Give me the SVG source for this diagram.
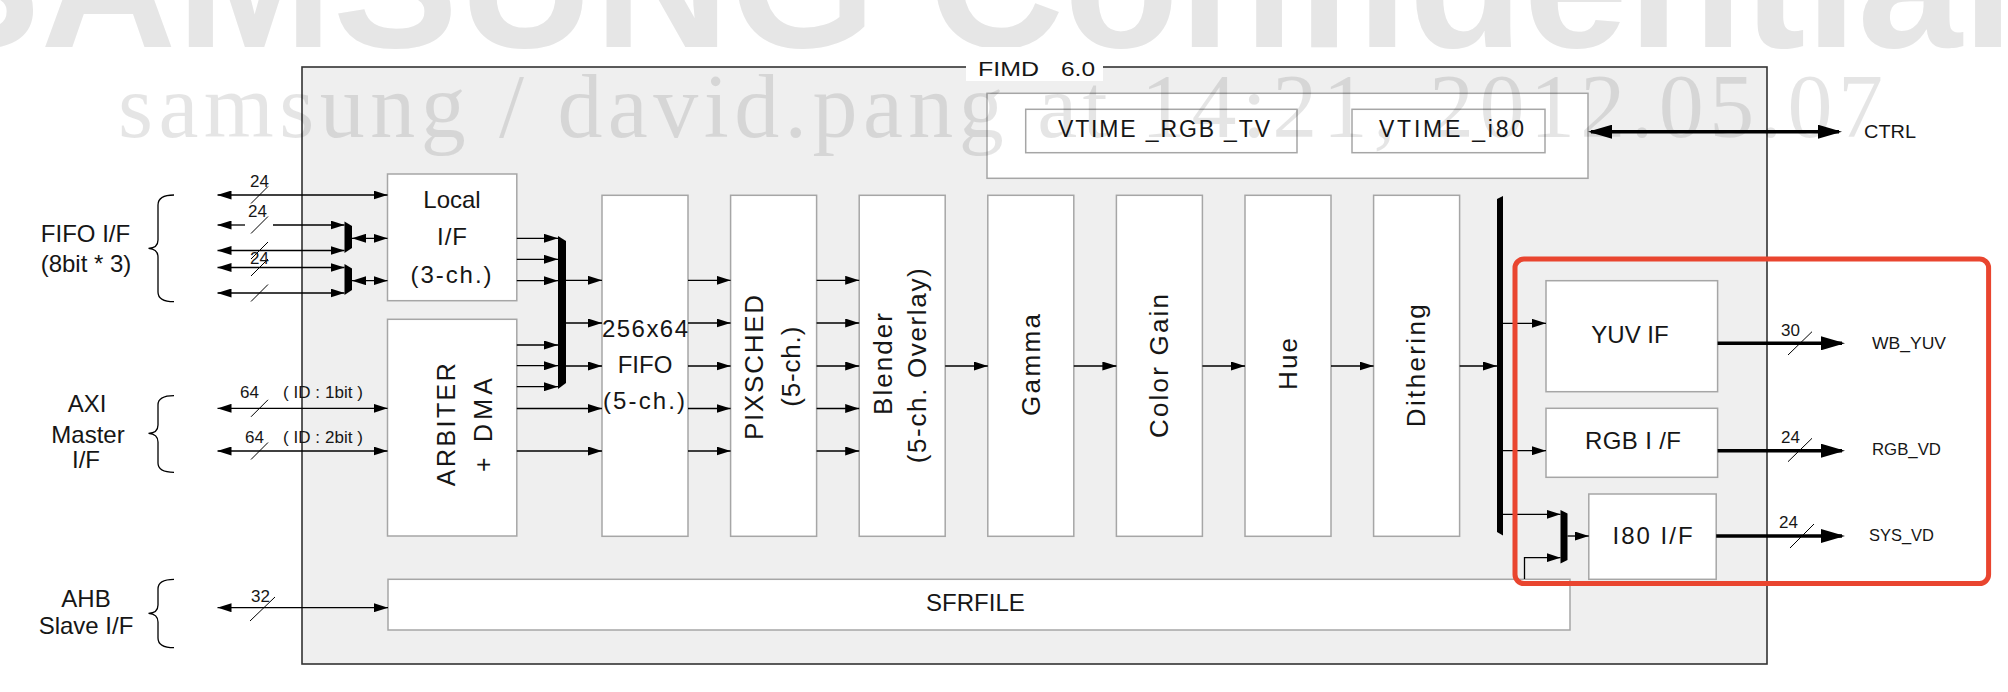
<svg xmlns="http://www.w3.org/2000/svg" width="2008" height="692" viewBox="0 0 2008 692">
<defs>
<style>
.t{font-family:"Liberation Sans",Arial,sans-serif;fill:#161616}
.box{fill:#fff;stroke:#a6a6a6;stroke-width:1.5}
.c{stroke:#000;stroke-width:1.3;fill:none}
.ck{stroke:#000;stroke-width:3.5;fill:none}
.sl{stroke:#000;stroke-width:1;fill:none}
.br{stroke:#000;stroke-width:1.3;fill:none}
.d{marker-start:url(#a);marker-end:url(#a)}
.e{marker-end:url(#a)}
.s{marker-start:url(#a)}
.mx{fill:#000}
</style>
<marker id="a" viewBox="0 0 14 9" refX="14" refY="4.5" markerWidth="14" markerHeight="9" markerUnits="userSpaceOnUse" orient="auto-start-reverse"><path d="M0,0 L14,4.5 L0,9z" fill="#000"/></marker>
<marker id="A" viewBox="0 0 24 14" refX="21" refY="7" markerWidth="24" markerHeight="14" markerUnits="userSpaceOnUse" orient="auto-start-reverse"><path d="M0,0 L24,7 L0,14z" fill="#000"/></marker>
</defs>
<rect width="2008" height="692" fill="#fff"/>
<text id="wm-top" x="-85" y="47" font-family="'Liberation Sans',Arial,sans-serif" font-weight="bold" font-size="188" fill="#e6e6e6">SAMSUNG Confidential</text>

<g id="fimd">
<rect x="302" y="67" width="1465" height="597" fill="#efefef" stroke="#333" stroke-width="1.6"/>
<rect x="966" y="47" width="137" height="34" fill="#fff"/>
<text class="t" x="978" y="76" font-size="21" textLength="61" lengthAdjust="spacingAndGlyphs">FIMD</text>
<text class="t" x="1061" y="76" font-size="21" textLength="34" lengthAdjust="spacingAndGlyphs">6.0</text>
</g>

<g id="left-labels">
<text class="t" x="85.5" y="241.7" font-size="24" text-anchor="middle">FIFO I/F</text>
<text class="t" x="86" y="271.7" font-size="24" text-anchor="middle">(8bit * 3)</text>
<path class="br" d="M174,195 Q158,195 158,205 L158,240 Q158,248 148.5,248.3 Q158,249 158,257 L158,292 Q158,301.7 174,301.7"/>
<text class="t" x="87" y="412" font-size="24" text-anchor="middle">AXI</text>
<text class="t" x="88" y="442.7" font-size="24" text-anchor="middle">Master</text>
<text class="t" x="86" y="468.3" font-size="24" text-anchor="middle">I/F</text>
<path class="br" d="M174,395.7 Q158,395.7 158,405 L158,425 Q158,433 148.5,433.3 Q158,434 158,442 L158,463 Q158,472.3 174,472.3"/>
<text class="t" x="86" y="606.7" font-size="24" text-anchor="middle">AHB</text>
<text class="t" x="86" y="634" font-size="24" text-anchor="middle">Slave I/F</text>
<path class="br" d="M174,579.3 Q158,579.3 158,589 L158,605 Q158,613 148.5,613.3 Q158,614 158,622 L158,638 Q158,647.7 174,647.7"/>
</g>

<g id="vtime">
<rect x="987" y="93.3" width="601" height="85" fill="#fff" stroke="#a6a6a6" stroke-width="1.5"/>
<rect class="box" x="1025.7" y="109.3" width="271.3" height="43.4"/>
<text class="t" x="1058" y="136.7" font-size="23" textLength="212" lengthAdjust="spacing">VTIME _RGB _TV</text>
<rect class="box" x="1352" y="109.3" width="193" height="43.4"/>
<text class="t" x="1379" y="136.7" font-size="23" textLength="145" lengthAdjust="spacing">VTIME _i80</text>
</g>

<g id="local-if">
<rect class="box" x="387.5" y="174" width="129.3" height="126.7"/>
<text class="t" x="452" y="208.3" font-size="24" text-anchor="middle">Local</text>
<text class="t" x="452" y="245" font-size="24" text-anchor="middle" textLength="30" lengthAdjust="spacing">I/F</text>
<text class="t" x="451" y="283.3" font-size="24" text-anchor="middle" textLength="81" lengthAdjust="spacing">(3-ch.)</text>
</g>
<g id="arbiter">
<rect class="box" x="387.5" y="319.3" width="129.3" height="216.7"/>
<text class="t" transform="translate(455,424.7) rotate(-90)" font-size="25" text-anchor="middle" textLength="123" lengthAdjust="spacing">ARBITER</text>
<text class="t" transform="translate(492,425) rotate(-90)" font-size="25" text-anchor="middle" textLength="94" lengthAdjust="spacing">+ DMA</text>
</g>
<g id="fifo">
<rect class="box" x="602" y="195.3" width="86" height="341"/>
<text class="t" x="645" y="336.7" font-size="24" text-anchor="middle" textLength="86" lengthAdjust="spacing">256x64</text>
<text class="t" x="645" y="372.7" font-size="24" text-anchor="middle">FIFO</text>
<text class="t" x="644" y="409.3" font-size="24" text-anchor="middle" textLength="82" lengthAdjust="spacing">(5-ch.)</text>
</g>
<g id="pixsched">
<rect class="box" x="730.6" y="195.3" width="86" height="341"/>
<text class="t" transform="translate(763,367.5) rotate(-90)" font-size="26" text-anchor="middle" textLength="145" lengthAdjust="spacing">PIXSCHED</text>
<text class="t" transform="translate(799.5,366.7) rotate(-90)" font-size="26" text-anchor="middle" textLength="80" lengthAdjust="spacing">(5-ch.)</text>
</g>
<g id="blender">
<rect class="box" x="859.2" y="195.3" width="86" height="341"/>
<text class="t" transform="translate(891.5,364) rotate(-90)" font-size="26" text-anchor="middle" textLength="102" lengthAdjust="spacing">Blender</text>
<text class="t" transform="translate(926,365.8) rotate(-90)" font-size="26" text-anchor="middle" textLength="195" lengthAdjust="spacing">(5-ch. Overlay)</text>
</g>
<g id="gamma">
<rect class="box" x="987.8" y="195.3" width="86" height="341"/>
<text class="t" transform="translate(1040,365) rotate(-90)" font-size="26" text-anchor="middle" textLength="102" lengthAdjust="spacing">Gamma</text>
</g>
<g id="color-gain">
<rect class="box" x="1116.4" y="195.3" width="86" height="341"/>
<text class="t" transform="translate(1168,366) rotate(-90)" font-size="26" text-anchor="middle" textLength="144" lengthAdjust="spacing">Color Gain</text>
</g>
<g id="hue">
<rect class="box" x="1245" y="195.3" width="86" height="341"/>
<text class="t" transform="translate(1297,364) rotate(-90)" font-size="26" text-anchor="middle" textLength="52" lengthAdjust="spacing">Hue</text>
</g>
<g id="dithering">
<rect class="box" x="1373.6" y="195.3" width="86" height="341"/>
<text class="t" transform="translate(1425,365.7) rotate(-90)" font-size="26" text-anchor="middle" textLength="123" lengthAdjust="spacing">Dithering</text>
</g>
<g id="yuv-if">
<rect class="box" x="1546" y="280.7" width="171.6" height="111"/>
<text class="t" x="1630" y="343.3" font-size="24" text-anchor="middle">YUV IF</text>
</g>
<g id="rgb-if">
<rect class="box" x="1546" y="408.3" width="171.6" height="69"/>
<text class="t" x="1633" y="449.3" font-size="24" text-anchor="middle" textLength="96" lengthAdjust="spacing">RGB I /F</text>
</g>
<g id="i80-if">
<rect class="box" x="1588.8" y="494" width="127.4" height="85.3"/>
<text class="t" x="1652.6" y="544" font-size="24" text-anchor="middle" textLength="80" lengthAdjust="spacing">I80 I/F</text>
</g>
<g id="sfrfile">
<rect class="box" x="388" y="579.3" width="1182" height="50.7"/>
<text class="t" x="975.4" y="611" font-size="24" text-anchor="middle">SFRFILE</text>
</g>

<g id="muxes">
<polygon class="mx" points="344.5,221.5 352,226 352,248 344.5,253"/>
<polygon class="mx" points="344.5,264 352,268.5 352,290 344.5,295"/>
<polygon class="mx" points="558,236 566,241 566,383 558,389"/>
<polygon class="mx" points="1497,199 1503,196 1503,535.5 1497,532"/>
<polygon class="mx" points="1560.5,510 1567.5,513.5 1567.5,560 1560.5,563.5"/>
</g>

<g id="connectors">
<path class="c d" d="M217.5,195 H387.5"/>
<path class="c s" d="M217.5,225 H245"/>
<path class="c e" d="M273,225 H344.5"/>
<path class="c d" d="M217.5,250.5 H344.5"/>
<path class="c d" d="M217.5,267.5 H344.5"/>
<path class="c d" d="M217.5,293 H344.5"/>
<path class="c d" d="M352,238.3 H387.5"/>
<path class="c d" d="M352,280.7 H387.5"/>
<path class="c d" d="M217.5,408.3 H387.5"/>
<path class="c d" d="M217.5,451 H387.5"/>
<path class="c d" d="M217.5,607.7 H388"/>
<path class="sl" d="M251,203.5 L268,186.5 M251,233.5 L268,216.5 M251,259 L268,242 M251,276 L268,259 M251,301.5 L268,284.5 M251,416.8 L268,399.8 M251,459.5 L268,442.5 M250,621 L275,597"/>
<g class="t" font-size="17">
<text x="250" y="186.7">24</text>
<text x="248" y="216.7">24</text>
<text x="250" y="263.5">24</text>
<text x="240" y="398.3">64</text>
<text x="283" y="398.3" textLength="80" lengthAdjust="spacing">( ID : 1bit )</text>
<text x="245" y="442.7">64</text>
<text x="283" y="442.7" textLength="80" lengthAdjust="spacing">( ID : 2bit )</text>
<text x="251" y="601.7">32</text>
</g>
<path class="c e" d="M516.8,238.3 H558"/>
<path class="c e" d="M516.8,259.3 H558"/>
<path class="c e" d="M516.8,280.7 H558"/>
<path class="c e" d="M516.8,345 H558"/>
<path class="c e" d="M516.8,365.7 H558"/>
<path class="c e" d="M516.8,386.7 H558"/>
<path class="c e" d="M566,280.3 H602"/>
<path class="c e" d="M566,323 H602"/>
<path class="c e" d="M566,366 H602"/>
<path class="c e" d="M516.8,408.5 H602"/>
<path class="c e" d="M516.8,451 H602"/>
<path class="c e" d="M688,280.3 H730.6"/>
<path class="c e" d="M688,323 H730.6"/>
<path class="c e" d="M688,366 H730.6"/>
<path class="c e" d="M688,408.5 H730.6"/>
<path class="c e" d="M688,451 H730.6"/>
<path class="c e" d="M816.6,280.3 H859.2"/>
<path class="c e" d="M816.6,323 H859.2"/>
<path class="c e" d="M816.6,366 H859.2"/>
<path class="c e" d="M816.6,408.5 H859.2"/>
<path class="c e" d="M816.6,451 H859.2"/>
<path class="c e" d="M945.2,366 H987.8"/>
<path class="c e" d="M1073.8,366 H1116.4"/>
<path class="c e" d="M1202.4,366 H1245"/>
<path class="c e" d="M1331,366 H1373.6"/>
<path class="c e" d="M1459.6,366 H1497"/>
<path class="c e" d="M1503,323.3 H1546"/>
<path class="c e" d="M1503,450.7 H1546"/>
<path class="c e" d="M1503,514.3 H1560.5"/>
<path class="c e" d="M1567.5,536 H1588.8"/>
<path class="c e" d="M1524.5,579 V557.7 H1560.5" stroke="#444"/>
<path class="ck" d="M1591,131.7 H1839" marker-start="url(#A)" marker-end="url(#A)"/>
<text class="t" x="1864" y="138.3" font-size="18" textLength="52" lengthAdjust="spacingAndGlyphs">CTRL</text>
<path class="ck" d="M1717.6,343.3 H1842" marker-end="url(#A)"/>
<path class="ck" d="M1717.6,450.7 H1842" marker-end="url(#A)"/>
<path class="ck" d="M1716.2,536 H1842" marker-end="url(#A)"/>
<path class="sl" d="M1788,355 L1812,331.7 M1788,461.7 L1812,438.3 M1790,548 L1814,524"/>
<g class="t" font-size="17">
<text x="1781" y="336">30</text>
<text x="1781" y="443.3">24</text>
<text x="1779" y="528.3">24</text>
<text x="1872" y="349.3" textLength="74" lengthAdjust="spacingAndGlyphs">WB_YUV</text>
<text x="1872" y="455" textLength="69" lengthAdjust="spacingAndGlyphs">RGB_VD</text>
<text x="1869" y="541" textLength="65" lengthAdjust="spacingAndGlyphs">SYS_VD</text>
</g>
</g>

<rect id="highlight" x="1515" y="259" width="473.6" height="324.5" rx="9" fill="none" stroke="#e9452f" stroke-width="5"/>
<text id="wm-stamp" x="118" y="137" font-family="'Liberation Serif','Times New Roman',serif" font-size="90" fill="#000" fill-opacity="0.1" textLength="1765" lengthAdjust="spacing">samsung / david.pang at 14:21, 2012.05.07</text>
</svg>
